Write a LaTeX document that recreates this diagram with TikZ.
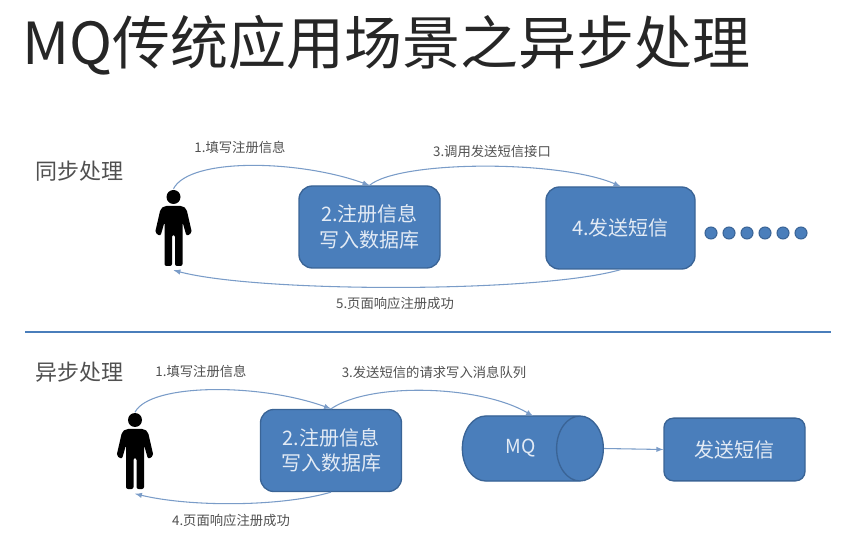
\documentclass[tikz,border=0pt]{standalone}
\usepackage{fontspec}
\setmainfont{Noto Sans CJK SC}
\usetikzlibrary{shapes.geometric}
\definecolor{boxblue}{HTML}{4A7EBB}
\definecolor{boxline}{HTML}{3A6496}
\definecolor{flowblue}{HTML}{7A9CC8}
\definecolor{boxtext}{HTML}{E3EBF5}
\definecolor{labeltext}{HTML}{505050}
\tikzset{
	bluebox/.style={draw=boxline,line width=1pt,fill=boxblue,rounded corners=10pt,text=boxtext,font=\fontsize{15}{19}\selectfont,align=center,inner sep=0pt},
	flow/.style={draw=flowblue,line width=0.8pt,-latex},
	steplabel/.style={text=labeltext,font=\fontsize{10}{11}\selectfont,inner sep=0pt},
	sectionlabel/.style={text=labeltext,font=\fontsize{16.5}{18}\selectfont,inner sep=0pt},
	userbox/.style={minimum width=27.75pt,minimum height=60.75pt,inner sep=0pt},
	dot/.style={circle,draw=boxline,fill=boxblue,line width=0.8pt,minimum size=9pt,inner sep=0pt}
}
% person icon, head top at the given point
\newcommand{\usericon}[1]{
	\begin{scope}[shift={(#1)}]
		\fill (0,8) circle (7);
		\fill[rounded corners=1.5pt] (-9,17) -- (9,17) -- (13,20) -- (18.5,44) -- (13,47) -- (9,33) -- (9,77) -- (1.5,77) -- (1.5,46) -- (-1.5,46) -- (-1.5,77) -- (-9,77) -- (-9,33) -- (-13,47) -- (-18.5,44) -- (-13,20) -- cycle;
	\end{scope}
}
\begin{document}
\begin{tikzpicture}[x=0.75pt,y=-0.75pt]
	\useasboundingbox (0,0) rectangle (864,534);
	
	\node[anchor=west,inner sep=0pt,text=black!85,font=\fontsize{43.5}{46}\selectfont] (title) at (22,45) {MQ传统应用场景之异步处理};
	
	% sync
	\node[sectionlabel] (synclabel) at (80,171) {同步处理};
	\usericon{173.5,189}
	\node[userbox] (user1) at (173.5,229.5) {};
	\node[bluebox,minimum width=105.75pt,minimum height=61.5pt] (write1) at (369.5,227) {2.注册信息\\写入数据库};
	\node[bluebox,minimum width=111.75pt,minimum height=61.5pt] (sms1) at (620.5,228) {4.发送短信};
	\node[dot] (d1) at (711,233) {};
	\node[dot] (d2) at (729,233) {};
	\node[dot] (d3) at (747,233) {};
	\node[dot] (d4) at (765,233) {};
	\node[dot] (d5) at (783,233) {};
	\node[dot] (d6) at (801,233) {};
	\draw[flow] (user1.north) .. controls (190,157) and (300,160) .. (write1.north);
	\draw[flow] (write1.north) .. controls (400,160) and (560,160) .. (sms1.north);
	\draw[flow] (sms1.south) .. controls (540,293) and (260,293) .. (user1.south);
	\node[steplabel] (step11) at (240,147) {1.填写注册信息};
	\node[steplabel] (step13) at (492,151) {3.调用发送短信接口};
	\node[steplabel] (step15) at (395,303) {5.页面响应注册成功};
	
	\coordinate (lineleft) at (25,332);
	\coordinate (lineright) at (831,332);
	\draw[boxblue,line width=1.5pt] (lineleft) -- (lineright);
	
	% async
	\node[sectionlabel] (asynclabel) at (80,372) {异步处理};
	\usericon{135,412}
	\node[userbox] (user2) at (135,453) {};
	\node[bluebox,minimum width=105.75pt,minimum height=61.5pt] (write2) at (331,450.5) {2.注册信息\\写入数据库};
	\node[cylinder,draw=boxline,line width=1pt,fill=boxblue,cylinder uses custom fill,cylinder body fill=boxblue,cylinder end fill=boxblue,aspect=2.6,minimum width=48.75pt,minimum height=105.75pt,text=boxtext,inner sep=0pt,font=\fontsize{14.5}{16}\selectfont,anchor=east] (mq) at (604,448.5) {MQ};
	\node[bluebox,rounded corners=7pt,minimum width=105.75pt,minimum height=47pt] (sms2) at (734.5,449.5) {发送短信};
	\draw[flow] (user2.north) .. controls (150,383) and (260,383) .. (write2.north);
	\draw[flow] (write2.north) .. controls (370,382) and (480,385) .. (533,416);
	\draw[flow] (write2.south) .. controls (280,507) and (190,507) .. (user2.south);
	\draw[flow] (mq.east) -- (sms2.west);
	\node[steplabel] (step21) at (201,371) {1.填写注册信息};
	\node[steplabel] (step23) at (434,372) {3.发送短信的请求写入消息队列};
	\node[steplabel] (step24) at (231,520) {4.页面响应注册成功};
\end{tikzpicture}
\end{document}
